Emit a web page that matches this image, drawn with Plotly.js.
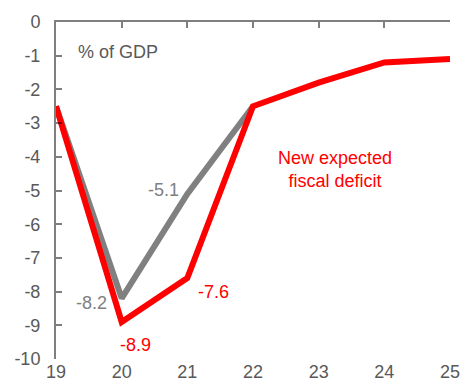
<!DOCTYPE html>
<html><head><meta charset="utf-8">
<script src="https://cdn.plot.ly/plotly-3.0.1.min.js"></script>
<style>html,body{margin:0;padding:0;background:#fff}#c{width:461px;height:392px}</style>
</head><body><div id="c"></div>
<script>
const years = [19, 20, 21, 22, 23, 24, 25];
const previousDeficit = [-2.5, -8.2, -5.1, -2.5];
const newDeficit = [-2.5, -8.9, -7.6, -2.5, -1.8, -1.2, -1.1];
const yTicks = [0, -1, -2, -3, -4, -5, -6, -7, -8, -9, -10];
const unitLabel = "% of GDP";
const seriesLabel = "New expected<br>fiscal deficit";

const F = "Liberation Sans, Arial, sans-serif";
const axisGray = "rgba(0,0,0,0.5)";
const textGray = "#595959";

const traces = [
  {x: years.slice(0, previousDeficit.length), y: previousDeficit, xaxis: 'x', yaxis: 'y', mode: 'lines',
   line: {color: '#808080', width: 6}, hoverinfo: 'skip'},
  {x: years, y: newDeficit, xaxis: 'x2', yaxis: 'y', mode: 'lines',
   line: {color: '#ff0000', width: 6}, hoverinfo: 'skip'}
];

const ann = (x, y, text, color) => ({x, y, xref: 'x', yref: 'y', text, showarrow: false,
  font: {family: F, size: 18, color}, xanchor: 'center', yanchor: 'middle'});

const layout = {
  width: 461, height: 392,
  margin: {l: 56, r: 11, t: 22, b: 33},
  paper_bgcolor: '#fff', plot_bgcolor: 'rgba(0,0,0,0)',
  showlegend: false,
  font: {family: F, size: 18, color: textGray},
  xaxis: {range: [19, 25], tickvals: years, ticktext: years.map(String), showline: false,
    showgrid: false, zeroline: false, ticks: '', tickfont: {family: F, size: 18, color: textGray}},
  xaxis2: {overlaying: 'x', side: 'top', range: [19, 25], tickvals: years,
    showticklabels: false, showline: true, linecolor: axisGray, linewidth: 2,
    ticks: 'inside', ticklen: 6, tickwidth: 2, tickcolor: axisGray, showgrid: false, zeroline: false},
  yaxis: {range: [-10, 0], tickvals: yTicks, ticktext: yTicks.map(String), showline: true,
    linecolor: axisGray, linewidth: 2, ticks: 'inside', ticklen: 6, tickwidth: 2, tickcolor: axisGray,
    showgrid: false, zeroline: false, ticklabelstandoff: 10,
    tickfont: {family: F, size: 18, color: textGray}},
  annotations: [
    ann(19.95, -0.89, unitLabel, textGray),
    ann(19.54, -8.34, previousDeficit[1].toFixed(1), '#808080'),
    ann(20.64, -4.98, previousDeficit[2].toFixed(1), '#808080'),
    ann(20.21, -9.58, newDeficit[1].toFixed(1), '#ff0000'),
    ann(21.40, -8.01, newDeficit[2].toFixed(1), '#ff0000'),
    ann(23.25, -4.39, seriesLabel, '#ff0000')
  ]
};
Plotly.newPlot('c', traces, layout, {staticPlot: true});
</script></body></html>
